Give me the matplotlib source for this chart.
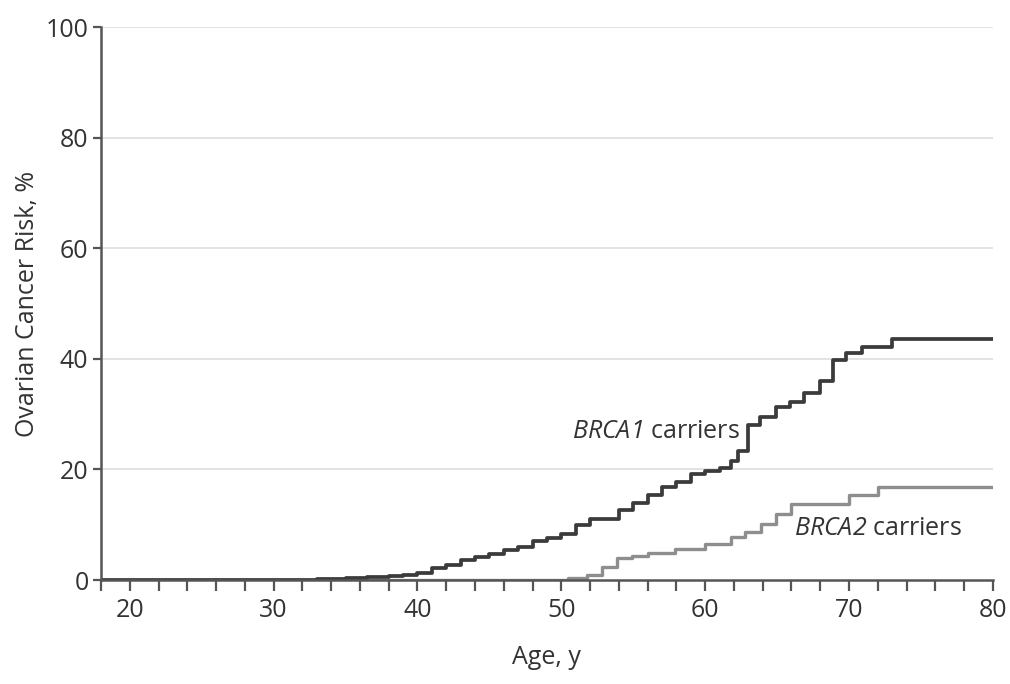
import numpy as np
import matplotlib
matplotlib.use('Agg')
import matplotlib.pyplot as plt

# step points (age in years, cumulative risk in %)
brca1_age = [18, 33, 35, 36.5, 38, 39, 40, 41, 42, 43, 44, 45, 46, 47, 48, 49, 50, 51, 52, 54,
             55, 56, 57, 58, 59, 60, 61, 61.8, 62.3, 63, 63.8, 64.9, 65.9, 66.9, 68, 68.9,
             69.8, 70.9, 73, 80]
brca1_risk = [0, 0.2, 0.4, 0.6, 0.8, 1.0, 1.3, 2.2, 2.8, 3.6, 4.2, 4.7, 5.4, 5.9, 7.0, 7.6, 8.3,
              9.9, 11.0, 12.6, 13.9, 15.3, 16.8, 17.8, 19.2, 19.8, 20.3, 21.6, 23.3, 28.0, 29.5,
              31.3, 32.2, 33.8, 35.9, 39.8, 41.1, 42.1, 43.6, 43.6]

brca2_age = [18, 50.5, 51.8, 52.8, 53.9, 54.9, 56, 57.9, 60, 61.8, 62.8, 63.9, 64.9, 66, 70, 72, 80]
brca2_risk = [0, 0.3, 1.0, 2.4, 3.9, 4.4, 4.9, 5.7, 6.5, 7.8, 8.7, 10.2, 12.0, 13.8, 15.3, 16.8, 16.8]

x_ticks = np.arange(18, 81, 2)
x_labels = [str(t) if t % 10 == 0 else '' for t in x_ticks]
y_ticks = [0, 20, 40, 60, 80, 100]

plt.rcParams['font.family'] = ['Open Sans', 'DejaVu Sans']
# gene names are set in math mode so the whole name (digit too) comes out italic
plt.rcParams['mathtext.fontset'] = 'custom'
plt.rcParams['mathtext.rm'] = 'Open Sans:italic'
plt.rcParams['mathtext.it'] = 'Open Sans:italic'

txt_color = '#333333'
fs = 18

fig = plt.figure(figsize=(10.1, 6.84), dpi=100)
ax = fig.add_axes([0.1, 0.152, 0.883, 0.8085])

for y in y_ticks[1:]:
    ax.axhline(y, color='#dedede', lw=1.2, zorder=1)

ax.plot(brca2_age, brca2_risk, drawstyle='steps-post', color='#8e8e8e', lw=2.4, zorder=3)
ax.plot(brca1_age, brca1_risk, drawstyle='steps-post', color='#3b3b3b', lw=2.7, zorder=4)

ax.text(62.4, 26.8, r'$BRCA1$ carriers', ha='right', va='center', fontsize=fs, color=txt_color)
ax.text(66.2, 9.4, r'$BRCA2$ carriers', ha='left', va='center', fontsize=fs, color=txt_color)

ax.set_xlim(18, 80)
ax.set_ylim(0, 100)
ax.set_xticks(x_ticks)
ax.set_xticklabels(x_labels)
ax.set_yticks(y_ticks)

for s in ['top', 'right']:
    ax.spines[s].set_visible(False)
for s in ['left', 'bottom']:
    ax.spines[s].set_color('#555555')
    ax.spines[s].set_linewidth(1.8)
    ax.spines[s].set_zorder(5)

ax.tick_params(axis='x', direction='out', length=8, width=1.6, color='#555555',
               labelsize=fs, labelcolor=txt_color, pad=5)
ax.tick_params(axis='y', direction='out', length=6, width=1.6, color='#555555',
               labelsize=fs, labelcolor=txt_color, pad=3)

ax.set_xlabel('Age, y', fontsize=fs, color=txt_color, labelpad=16)
ax.set_ylabel('Ovarian Cancer Risk, %', fontsize=fs, color=txt_color, labelpad=4)

fig.savefig('out.png', dpi=100, facecolor='white')
